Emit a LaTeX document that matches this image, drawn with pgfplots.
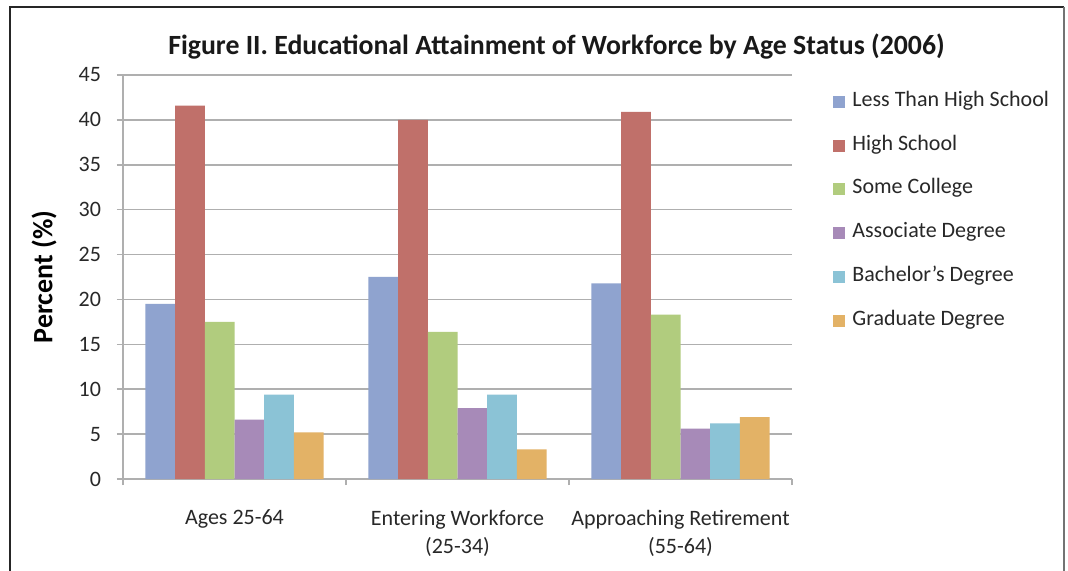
\documentclass[border=0pt]{standalone}
\usepackage{pgfplots}
\pgfplotsset{compat=1.18}
\usepackage{fontspec}
\setmainfont{Carlito}
\definecolor{c1}{RGB}{143,163,207}
\definecolor{c2}{RGB}{192,112,106}
\definecolor{c3}{RGB}{177,204,126}
\definecolor{c4}{RGB}{167,138,184}
\definecolor{c5}{RGB}{139,195,214}
\definecolor{c6}{RGB}{227,178,102}
\definecolor{gridc}{RGB}{175,175,175}
\definecolor{txt}{RGB}{40,40,40}
\begin{document}
\begin{tikzpicture}
\useasboundingbox (-61.5pt,-46pt) rectangle (472.5pt,239.5pt);
\fill[white] (-61.5pt,-46pt) rectangle (472.5pt,239.5pt);
\draw[line width=0.9pt, black!85] (-56.5pt,-47pt) -- (-56.5pt,236pt) -- (470.5pt,236pt);
\draw[line width=0.9pt, black!55] (470.5pt,236pt) -- (470.5pt,-47pt);
\begin{axis}[
  at={(0,0)}, anchor=south west,
  scale only axis, width=334.5pt, height=202pt,
  ybar=0pt, bar width=14.85pt,
  xmin=-0.5, xmax=2.5, ymin=0, ymax=45,
  ytick={0,5,...,45},
  ymajorgrids, grid style={line width=0.75pt, color=gridc},
  axis lines=left, axis line style={-, draw=gridc, line width=0.75pt},
  tick align=outside, major tick length=3pt,
  tick style={draw=gridc, line width=0.75pt},
  xtick={-0.5,0.5,1.5,2.5}, xticklabels={},
  extra x ticks={0,1,2},
  extra x tick labels={Ages 25-64, {Entering Workforce\\(25-34)}, {Approaching Retirement\\(55-64)}},
  extra x tick style={major tick length=0pt, tick label style={align=center, anchor=north, yshift=-12pt}},
  font=\fontsize{11}{14}\selectfont,
  tick label style={text=txt, font=\fontsize{11}{14}\selectfont},
  yticklabel style={xshift=-4.5pt},
  /pgf/number format/assume math mode=true,
  ylabel={\bfseries Percent (\%)},
  ylabel style={at={(axis description cs:-0.118,0.5)}, anchor=center, rotate=0, font=\fontsize{14}{16}\selectfont},
  legend cell align=left,
  legend style={draw=none, fill=none, at={(axis description cs:1.0523,0.968)}, anchor=north west,
    font=\fontsize{11}{14}\selectfont, row sep=12.4pt, text=txt,
    nodes={inner ysep=0pt, inner xsep=3.5pt, text height=0.7em, text depth=0.25em}},
  legend image code/.code={\fill[#1] (0pt,-3pt) rectangle (6pt,3pt);},
]
\addplot[fill=c1, draw=none] coordinates {(0,19.5) (1,22.5) (2,21.8)};
\addplot[fill=c2, draw=none] coordinates {(0,41.6) (1,40.0) (2,40.9)};
\addplot[fill=c3, draw=none] coordinates {(0,17.5) (1,16.4) (2,18.3)};
\addplot[fill=c4, draw=none] coordinates {(0,6.6) (1,7.9) (2,5.6)};
\addplot[fill=c5, draw=none] coordinates {(0,9.4) (1,9.4) (2,6.2)};
\addplot[fill=c6, draw=none] coordinates {(0,5.2) (1,3.3) (2,6.9)};
\legend{Less Than High School, High School, Some College, Associate Degree, Bachelor's Degree, Graduate Degree}
\end{axis}
\node[font=\bfseries\fontsize{13.9}{16}\selectfont, text=black!90] at (216.75pt,216pt) {Figure II. Educational Attainment of Workforce by Age Status (2006)};
\end{tikzpicture}
\end{document}
